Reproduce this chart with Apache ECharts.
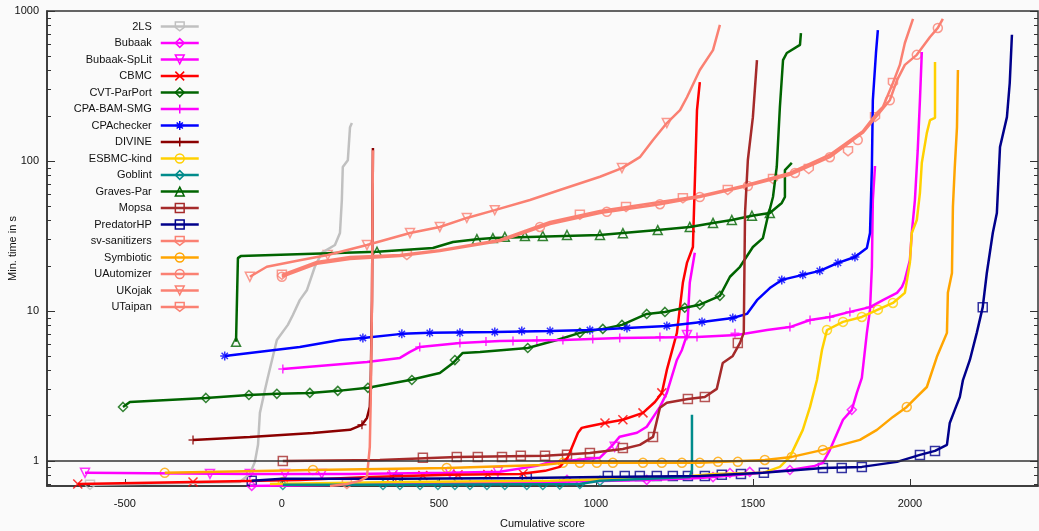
<!DOCTYPE html>
<html>
<head>
<meta charset="UTF-8">
<title>Quantile plot</title>
<script src="https://cdn.jsdelivr.net/npm/echarts@6/dist/echarts.min.js"></script>
</head>
<body style="margin:0;background:#fafafa;">
<div id="main" style="width:1039px;height:531px;"></div>
<script type="text/javascript">
var tools = ['2LS', 'Bubaak', 'Bubaak-SpLit', 'CBMC', 'CVT-ParPort', 'CPA-BAM-SMG', 'CPAchecker', 'DIVINE',
	'ESBMC-kind', 'Goblint', 'Graves-Par', 'Mopsa', 'PredatorHP', 'sv-sanitizers', 'Symbiotic',
	'UAutomizer', 'UKojak', 'UTaipan'];

// [cumulative score, min. time in s]
var twoLsLine = [[-611,0.692],[-134,0.724],[-102,0.819],[-86,0.985],[-76,1.28],[-70,2.09],[-54,2.97],[-45,3.58],[-16,6.4],[19,8.07],[35,9.4],[57,11.8],[80,13.8],[105,19.7],[127,24.4],[169,27.5],[185,33.1],[191,54.9],[194,91.2],[210,101],[217,168],[223,179]];
var twoLsMarks = [[-611,0.692]];

var bubaakLine = [[-102,0.681],[376,0.702],[854,0.724],[1172,0.747],[1331,0.77],[1490,0.819],[1618,0.871],[1697,0.926],[1723,0.97],[1745,1.18],[1787,1.88],[1815,2.19],[1831,2.84],[1847,3.58],[1863,7.14],[1873,10.2],[1879,19.7],[1882,54.9],[1889,92.6]];
var bubaakMarks = [[-96,0.681],[908,0.747],[1162,0.747],[1373,0.78],[1427,0.83],[1490,0.845],[1618,0.87],[1815,2.19]];

var splitLine = [[-627,0.832],[-102,0.819],[217,0.819],[535,0.832],[694,0.845],[812,0.926],[844,0.97],[1013,1.05],[1054,1.28],[1076,1.45],[1131,1.54],[1162,1.69],[1204,2.29],[1226,2.84],[1258,4.71],[1274,5.49],[1290,6.92],[1293,9.12],[1299,15.4],[1315,24.4]];
var splitMarks = [[-627,0.832],[-229,0.819],[-102,0.819],[10,0.819],[127,0.819],[354,0.819],[535,0.832],[688,0.845],[1060,1.24],[1290,6.92]];

var cbmcLine = [[-650,0.702],[-283,0.724],[57,0.747],[280,0.782],[535,0.807],[758,0.819],[838,0.858],[885,0.912],[911,1.06],[943,1.54],[955,1.66],[971,1.69],[1029,1.79],[1086,1.88],[1150,2.09],[1188,2.47],[1210,2.84],[1226,4.04],[1258,7.14],[1277,15.4],[1290,20.9],[1309,26.7],[1322,218],[1331,336]];
var cbmcMarks = [[-650,0.702],[-283,0.724],[350,0.79],[449,0.8],[561,0.807],[656,0.812],[768,0.82],[1029,1.79],[1086,1.88],[1150,2.09],[1210,2.84]];

var cvtLine = [[-506,2.29],[-484,2.47],[-242,2.63],[-105,2.75],[-16,2.8],[89,2.84],[178,2.93],[274,3.07],[408,3.46],[503,3.86],[545,4.5],[576,5.25],[631,5.33],[783,5.66],[876,6.4],[949,7.14],[1022,7.59],[1083,8.07],[1162,9.55],[1220,9.85],[1283,10.5],[1331,11],[1395,12.6],[1427,16.9],[1459,19.7],[1500,26.7],[1532,30.6],[1545,40.4],[1564,57.5],[1576,91.2],[1586,229],[1596,470],[1608,525],[1650,594],[1653,711]];
var cvtMarks = [[-506,2.29],[-242,2.63],[-105,2.75],[-16,2.8],[89,2.84],[178,2.93],[274,3.07],[414,3.46],[551,4.7],[783,5.66],[949,7.14],[1022,7.59],[1083,8.07],[1162,9.55],[1220,9.85],[1283,10.5],[1331,11],[1395,12.6]];

var bamLine = [[3,4.1],[271,4.57],[376,4.86],[408,5.33],[439,5.75],[567,6.12],[694,6.3],[895,6.4],[1076,6.6],[1322,6.7],[1449,6.92],[1545,7.46],[1618,7.8],[1682,8.7],[1745,9.12],[1809,9.85],[1873,10.6],[1914,11.8],[1959,13.2],[1975,14.5],[1984,16.1],[2000,21.8],[2006,33.1],[2016,54.9],[2025,118],[2032,254],[2038,533]];
var bamMarks = [[3,4.1],[439,5.75],[567,6.12],[650,6.25],[736,6.3],[812,6.35],[895,6.4],[990,6.5],[1076,6.6],[1204,6.7],[1322,6.7],[1443,7.1],[1618,7.8],[1682,8.7],[1745,9.12],[1809,9.85],[1873,10.6]];

var cpaLine = [[-182,5.01],[57,5.75],[185,6.4],[258,6.6],[382,7.03],[471,7.14],[678,7.24],[854,7.36],[981,7.46],[1099,7.7],[1226,7.94],[1338,8.45],[1436,8.98],[1481,9.55],[1513,11.8],[1554,14.2],[1592,16.1],[1659,17.4],[1713,18.5],[1771,20.9],[1825,22.9],[1863,26.3],[1873,33.1],[1879,91.2],[1882,254],[1892,525],[1898,746]];
var cpaMarks = [[-182,5.01],[258,6.6],[382,7.03],[471,7.14],[567,7.14],[678,7.24],[764,7.36],[854,7.36],[981,7.46],[1099,7.7],[1226,7.94],[1338,8.45],[1436,8.98],[1592,16.1],[1659,17.4],[1713,18.5],[1771,20.9],[1825,22.9]];

var divineLine = [[-283,1.38],[-102,1.445],[99,1.536],[217,1.61],[255,1.74],[271,1.935],[280,2.29],[283,3.46],[287,11.8],[290,122]];
var divineMarks = [[-283,1.38],[255,1.74]];

var esbmcLine = [[-38,0.702],[376,0.724],[854,0.736],[1268,0.782],[1373,0.819],[1532,0.832],[1586,0.912],[1618,1.063],[1659,1.61],[1682,2.29],[1704,3.46],[1720,5.49],[1736,7.46],[1787,8.45],[1847,9.12],[1898,10.2],[1946,11.3],[1984,13.2],[2000,20.9],[2006,33.1],[2022,40.4],[2032,61.3],[2038,97.3],[2054,154],[2064,187],[2080,194],[2080,457]];
var esbmcMarks = [[3,0.724],[1736,7.46],[1787,8.45],[1847,9.12],[1898,10.2],[1946,11.3]];

var goblintLine = [[3,0.692],[376,0.692],[949,0.702],[1013,0.736],[1299,0.782],[1306,0.871],[1306,2.03]];
var goblintMarks = [[3,0.69],[322,0.69],[376,0.69],[440,0.69],[497,0.69],[551,0.69],[599,0.69],[653,0.69],[710,0.69],[780,0.69],[831,0.69],[885,0.695],[949,0.702],[1013,0.736]];

var gravesLine = [[-146,6.22],[-140,22.5],[-131,23.2],[303,24.8],[481,26.3],[545,28.8],[621,30.1],[672,30.6],[1013,32.1],[1197,34.6],[1299,36.3],[1373,38.6],[1433,40.4],[1497,43.1],[1554,45],[1592,52.5],[1602,57.5],[1602,87],[1624,97.2]];
var gravesMarks = [[-146,6.22],[303,24.8],[621,30.1],[672,30.6],[710,31.2],[774,31.6],[831,31.6],[908,32.1],[1013,32.1],[1086,33],[1197,34.6],[1299,36.3],[1373,38.6],[1433,40.4],[1497,43.1],[1554,45]];

var mopsaLine = [[3,1.0],[312,1.015],[557,1.063],[838,1.08],[981,1.13],[1086,1.2],[1140,1.278],[1182,1.445],[1204,2.26],[1226,2.44],[1293,2.59],[1347,2.67],[1385,3.02],[1404,4.5],[1436,5.01],[1459,6.12],[1471,7.14],[1475,45],[1484,101.5],[1500,196],[1513,470]];
var mopsaMarks = [[3,1.0],[449,1.05],[557,1.063],[624,1.063],[701,1.063],[761,1.08],[838,1.08],[908,1.1],[981,1.13],[1086,1.22],[1182,1.445],[1293,2.59],[1347,2.67],[1452,6.12]];

var predatorLine = [[-96,0.736],[3,0.759],[376,0.759],[780,0.77],[1013,0.782],[1331,0.794],[1532,0.832],[1723,0.898],[1847,0.912],[1959,0.985],[2032,1.096],[2080,1.166],[2118,1.278],[2127,1.79],[2143,2.19],[2159,2.67],[2169,3.46],[2191,4.71],[2213,7.14],[2232,10.6],[2245,17.9],[2264,33.1],[2277,45],[2287,124],[2309,196],[2318,331],[2325,694]];
var predatorMarks = [[-96,0.736],[369,0.759],[780,0.77],[1038,0.794],[1092,0.794],[1140,0.794],[1194,0.794],[1245,0.794],[1293,0.794],[1347,0.794],[1401,0.807],[1462,0.819],[1535,0.832],[1723,0.898],[1783,0.898],[1847,0.912],[2032,1.096],[2080,1.166],[2232,10.6]];

var sanLine = [[153,0.681],[207,0.702],[248,0.736],[271,0.782],[280,1.24],[283,2.55],[287,11.8],[290,118]];
var sanMarks = [[207,0.702]];

var symbLine = [[-373,0.832],[99,0.871],[525,0.898],[828,0.94],[895,0.97],[1331,0.97],[1538,1.015],[1624,1.063],[1723,1.184],[1841,1.38],[1895,1.61],[1946,1.965],[1990,2.29],[2022,2.67],[2054,3.11],[2086,4.94],[2118,7.14],[2121,13.2],[2134,17.9],[2137,49.3],[2143,91.2],[2150,168],[2153,404]];
var symbMarks = [[-373,0.832],[99,0.871],[525,0.898],[895,0.97],[949,0.97],[1003,0.97],[1054,0.97],[1150,0.97],[1210,0.97],[1274,0.97],[1331,0.97],[1389,0.985],[1452,0.985],[1538,1.015],[1624,1.063],[1723,1.184],[1990,2.29]];

var uautoLine = [[0,16.9],[111,20.6],[217,22.2],[376,23.2],[503,25.1],[694,29.2],[854,38],[1013,45],[1204,51.5],[1331,57.5],[1468,67],[1618,80.8],[1745,106],[1850,154],[1936,254],[1959,346],[1984,437],[2022,510],[2064,671],[2089,771],[2105,887]];
var uautoMarks = [[0,16.9],[822,36.3],[1035,45.8],[1204,51.5],[1331,57.5],[1484,68.1],[1634,83.2],[1745,106],[1834,138],[1936,254],[2022,510],[2089,771]];

var ukojakLine = [[-102,16.9],[-48,19.7],[57,21.8],[146,23.6],[271,27.5],[408,33.1],[503,36.3],[589,41.7],[678,47],[790,54.9],[885,64],[1013,78.5],[1083,89.6],[1140,106],[1182,138],[1226,179],[1268,218],[1290,266],[1331,404],[1373,548],[1395,808]];
var ukojakMarks = [[-102,16.9],[146,23.6],[271,27.5],[408,33.1],[503,36.3],[589,41.7],[678,47],[1083,89.6],[1226,179]];

var utaipanLine = [[0,17.4],[111,21.2],[217,22.9],[376,23.6],[503,25.4],[694,29.7],[854,39.2],[1013,46.4],[1204,53.3],[1331,58.4],[1468,68.1],[1618,83.2],[1745,110],[1850,158],[1895,209],[1914,229],[1946,331],[1968,437],[1984,612],[2010,887]];
var utaipanMarks = [[0,17.4],[398,23.6],[949,43.7],[1096,49.3],[1277,56.3],[1420,64],[1564,75.7],[1678,88.3],[1803,116],[1889,196],[1946,331]];

var lines = [twoLsLine, bubaakLine, splitLine, cbmcLine, cvtLine, bamLine, cpaLine, divineLine, esbmcLine,
	goblintLine, gravesLine, mopsaLine, predatorLine, sanLine, symbLine, uautoLine, ukojakLine, utaipanLine];
var marks = [twoLsMarks, bubaakMarks, splitMarks, cbmcMarks, cvtMarks, bamMarks, cpaMarks, divineMarks, esbmcMarks,
	goblintMarks, gravesMarks, mopsaMarks, predatorMarks, sanMarks, symbMarks, uautoMarks, ukojakMarks, utaipanMarks];

var xTicks = [-500, 0, 500, 1000, 1500, 2000];
var yTicks = [1, 10, 100, 1000];
var yMinor = [0.7, 0.8, 0.9, 2, 3, 4, 5, 6, 7, 8, 9, 20, 30, 40, 50, 60, 70, 80, 90, 200, 300, 400, 500, 600, 700, 800, 900];

var pent = 'path://M0,0 L10,0 L10,6 L5,10 L0,6 Z';
var triDown = 'path://M0,0 L10,0 L5,9 Z';
var cross = 'path://M0,0 L10,10 M10,0 L0,10';
var plus = 'path://M5,0 L5,10 M0,5 L10,5';
var star = 'path://M5,0 L5,10 M0,5 L10,5 M1.5,1.5 L8.5,8.5 M8.5,1.5 L1.5,8.5';

var colors = ['#c0c0c0', '#ff00ff', '#ff00ff', '#ff0000', '#006400', '#ff00ff', '#0000ff', '#8b0000', '#ffd000',
	'#008b8b', '#006400', '#a52a2a', '#00008b', '#fa8072', '#ffa500', '#fa8072', '#fa8072', '#fa8072'];
var symbols = [pent, 'diamond', triDown, cross, 'diamond', plus, star, plus, 'circle',
	'diamond', 'triangle', 'rect', 'rect', pent, 'circle', 'circle', triDown, pent];

var chart = echarts.init(document.getElementById('main'));

var series = [];
var legendData = [];
for (var i = 0; i < tools.length; i++) {
	var hollow = {color: 'rgba(0,0,0,0)', borderColor: colors[i], borderWidth: 1.5};
	series.push({
		type: 'line', name: tools[i], data: lines[i],
		showSymbol: false, symbol: symbols[i], silent: true,
		lineStyle: {color: colors[i], width: 2.5},
		itemStyle: {color: colors[i]}
	});
	series.push({
		type: 'scatter', name: tools[i], data: marks[i],
		symbol: symbols[i], symbolSize: 9, silent: true,
		itemStyle: hollow
	});
	legendData.push({name: tools[i], itemStyle: hollow, lineStyle: {color: colors[i], width: 2.5}});
}
// the y = 1 line
series[0].markLine = {
	silent: true, symbol: ['none', 'none'], label: {show: false},
	lineStyle: {color: '#333', type: 'solid', width: 1.5},
	data: [{yAxis: 1}]
};

function yAx(pos, ticks, len, labels) {
	return {
		type: 'log', logBase: 10, min: 0.68, max: 1000, position: pos,
		splitLine: {show: false},
		axisLine: {show: labels, onZero: false, lineStyle: {color: '#333', width: 1.5}},
		axisTick: {inside: true, length: len, customValues: ticks, lineStyle: {color: '#333', width: 1}},
		axisLabel: {show: labels, customValues: yTicks, color: '#111', fontSize: 11, margin: 8,
			formatter: function (v) { return String(v); }},
		name: labels ? 'Min. time in s' : '', nameLocation: 'middle', nameGap: 29, nameMoveOverlap: false,
		nameTextStyle: {color: '#111', fontSize: 11}
	};
}

chart.setOption({
	animation: false,
	backgroundColor: '#fafafa',
	textStyle: {fontFamily: 'Liberation Sans, Arial, sans-serif'},
	grid: {left: 47, right: 1, top: 11, bottom: 45, show: true, borderColor: '#333', borderWidth: 1.5,
		outerBoundsMode: 'none', containLabel: false},
	legend: {
		orient: 'vertical', right: 839, top: 21, padding: 0,
		align: 'right', itemWidth: 38, itemHeight: 11, itemGap: 5.5,
		textStyle: {fontSize: 11, color: '#111', lineHeight: 11, padding: [0, 4, 0, 0]},
		data: legendData
	},
	xAxis: {
		type: 'value', min: -748, max: 2408,
		splitLine: {show: false},
		axisLine: {onZero: false, lineStyle: {color: '#333', width: 1.5}},
		axisTick: {inside: true, length: 7, customValues: xTicks, lineStyle: {color: '#333'}},
		axisLabel: {customValues: xTicks, color: '#111', fontSize: 11, margin: 12,
			formatter: function (v) { return String(v); }},
		name: 'Cumulative score', nameLocation: 'middle', nameGap: 32, nameMoveOverlap: false,
		nameTextStyle: {color: '#111', fontSize: 11}
	},
	yAxis: [yAx('left', yTicks, 8, true), yAx('left', yMinor, 4, false),
		yAx('right', yTicks, 8, false), yAx('right', yMinor, 4, false)],
	series: series
});
</script>
</body>
</html>
